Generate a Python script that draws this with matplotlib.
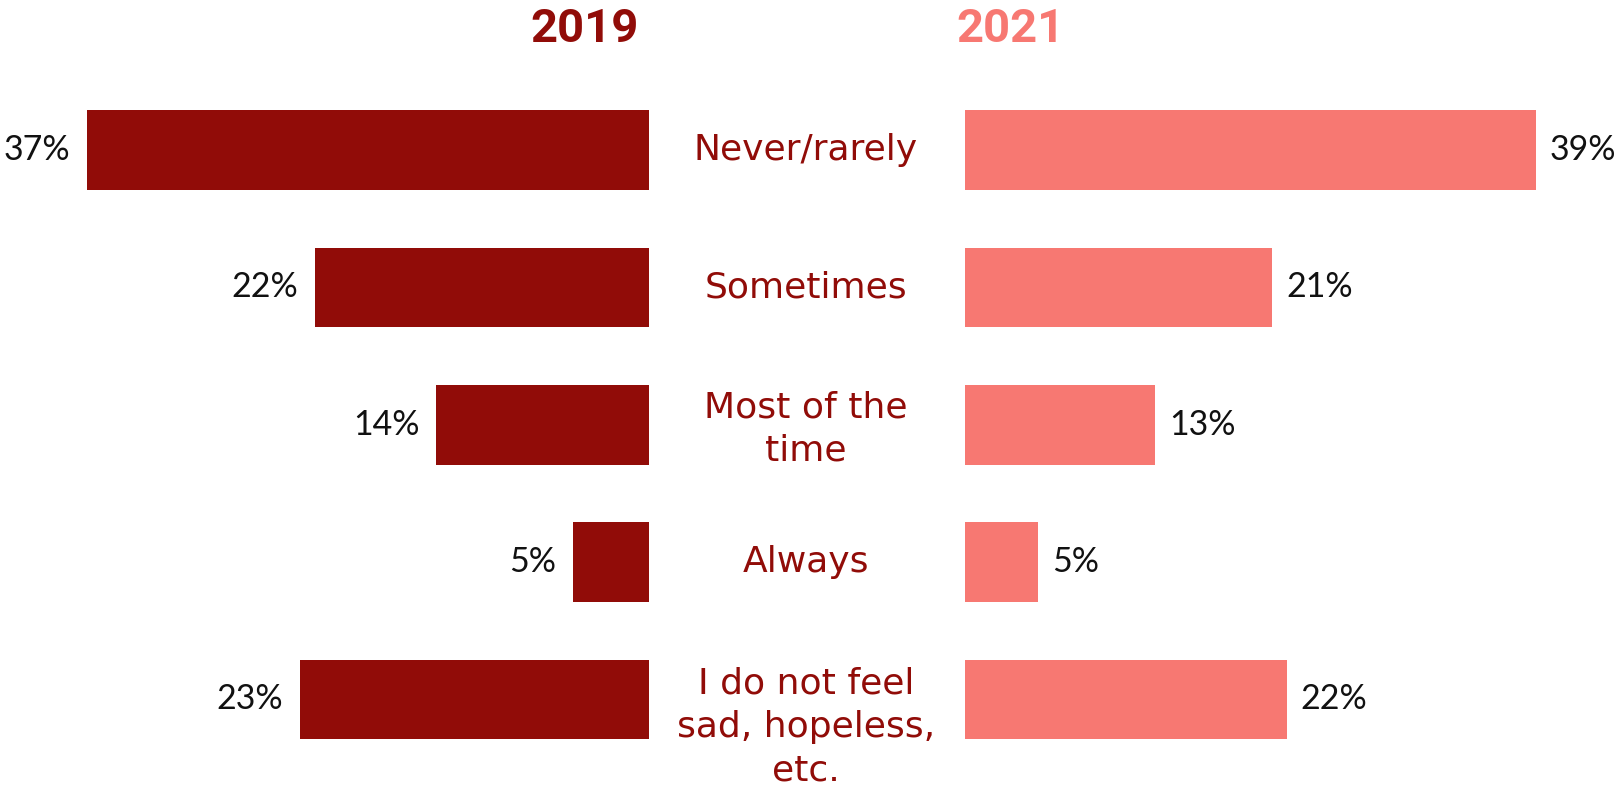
import matplotlib
matplotlib.use("Agg")
import matplotlib.pyplot as plt
from matplotlib import transforms

categories = ["Never/rarely", "Sometimes", "Most of the\ntime", "Always",
              "I do not feel\nsad, hopeless,\netc."]
values_2019 = [37, 22, 14, 5, 23]
values_2021 = [39, 21, 13, 5, 22]
years = ["2019", "2021"]

DARK = "#910C08"
LIGHT = "#F77872"

W, H = 1623, 786
fig = plt.figure(figsize=(W / 100, H / 100), dpi=100)
fig.patch.set_facecolor("white")

ax_w = 600 / W
ax_b = 1 - 768 / H
ax_h = 686.5 / H
axL = fig.add_axes([(649 - 600) / W, ax_b, ax_w, ax_h])
axR = fig.add_axes([965 / W, ax_b, ax_w, ax_h])

ypos = list(range(len(categories)))
for ax, vals, col, side, xmax in ((axL, values_2019, DARK, "left", 39.5),
                                  (axR, values_2021, LIGHT, "right", 41.0)):
    ax.barh(ypos, vals, height=0.58, color=col)
    ax.set_xlim(0, xmax)
    ax.set_ylim(len(categories) - 0.5, -0.5)
    if side == "left":
        ax.invert_xaxis()
    ax.axis("off")
    for y, v in zip(ypos, vals):
        ax.annotate(f"{v}%", (v, y), xytext=(-12 if side == "left" else 10, 0),
                    textcoords="offset points",
                    ha="right" if side == "left" else "left", va="center",
                    fontsize=24.5, family="Lato", color="#111111",
                    annotation_clip=False)

# category labels in the centre column
trans = transforms.blended_transform_factory(fig.transFigure, axL.transData)
offsets = [0, 0, 0.03, 0, 0.2]
for y, cat, off in zip(ypos, categories, offsets):
    fig.text(806 / W, y + off, cat, transform=trans, ha="center", va="center",
             fontsize=26, family="DejaVu Sans", color=DARK, linespacing=1.36,
             multialignment="center")

# year headers
fig.text(585 / W, 1 - 29 / H, years[0], ha="center", va="center",
         fontsize=34, family="Roboto", weight="bold", color=DARK)
fig.text(1011 / W, 1 - 29 / H, years[1], ha="center", va="center",
         fontsize=34, family="Roboto", weight="bold", color=LIGHT)

fig.savefig("out.png", dpi=100, facecolor="white")
